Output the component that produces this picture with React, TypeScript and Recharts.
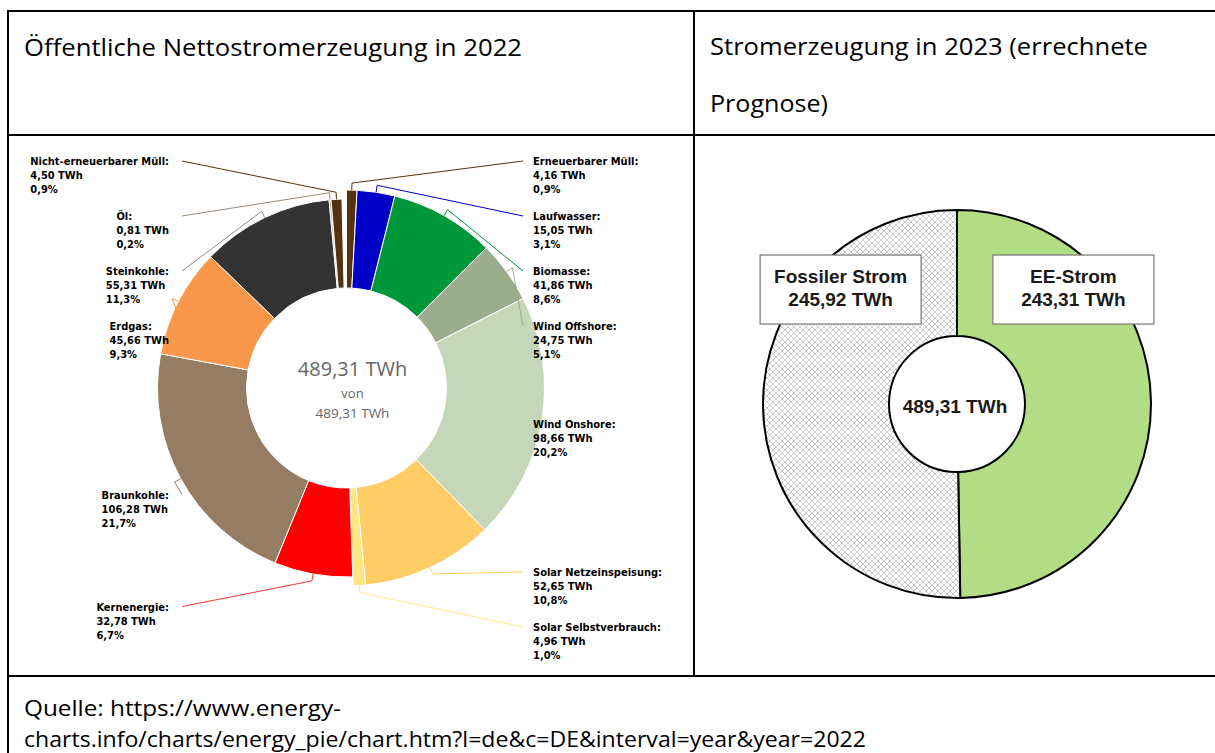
import React from 'react';
import { PieChart, Pie, Cell, Label } from 'recharts';

// ---------------- data ----------------
const TOTAL_2022 = 489.31;
const renewableNames = [
  'Erneuerbarer Müll',
  'Laufwasser',
  'Biomasse',
  'Wind Offshore',
  'Wind Onshore',
  'Solar Netzeinspeisung',
  'Solar Selbstverbrauch',
];
const renewableValues = [4.16, 15.05, 41.86, 24.75, 98.66, 52.65, 4.96];
const renewableColors = ['#553311', '#0000c8', '#00963a', '#9aae8e', '#c4d8b9', '#ffcc66', '#ffe680'];

const conventionalNames = ['Kernenergie', 'Braunkohle', 'Erdgas', 'Steinkohle', 'Öl', 'Nicht-erneuerbarer Müll'];
const conventionalValues = [32.78, 106.28, 45.66, 55.31, 0.81, 4.5];
const conventionalColors = ['#ff0000', '#967c62', '#f9984a', '#333333', '#b3a595', '#553311'];
const conventionalLineColors = ['#ff3333', '#967c62', '#f9984a', '#8c8c8c', '#9c8a78', '#553311'];

const TOTAL_2023 = 489.31;
const forecastNames = ['EE-Strom', 'Fossiler Strom'];
const forecastValues = [243.31, 245.92];
const forecastFills = ['#b3dd85', 'url(#hatch)'];

const TITLE_LEFT = 'Öffentliche Nettostromerzeugung in 2022';
const TITLE_RIGHT_1 = 'Stromerzeugung in 2023 (errechnete';
const TITLE_RIGHT_2 = 'Prognose)';
const SOURCE_1 = 'Quelle: https://www.energy-';
const SOURCE_2 = 'charts.info/charts/energy_pie/chart.htm?l=de&c=DE&interval=year&year=2022';

// ---------------- helpers ----------------
const fmt = (v: number) => v.toFixed(2).replace('.', ',') + ' TWh';
const fmtPct = (v: number) => ((v / TOTAL_2022) * 100).toFixed(1).replace('.', ',') + '%';
const sum = (a: number[]) => a.reduce((s, v) => s + v, 0);
const NO_MARGIN = { top: 0, right: 0, bottom: 0, left: 0 };

// ---------------- geometry (left donut) ----------------
const L_W = 694;
const L_H = 753;
const L_CX = 346.5;
const L_CY = 388;
const L_INNER = 100;
const L_OUTER_REN = 198;
const L_OUTER_CONV = 189;
const LABEL_R = 222;
const LABEL_STEP = 55;
const LABEL_TOP = 161;
const LABEL_BOTTOM = 640;
const RIGHT_LINE_X = 523;
const RIGHT_TEXT_X = 533;
const LEFT_LINE_X = 182;
const LEFT_TEXT_RIGHT = 169;
const LABEL_FONT = 11;
const LABEL_FAMILY = '"DejaVu Sans Condensed", "DejaVu Sans", sans-serif';
const LINE_H = 14;

const renData = renewableNames.map((name, i) => ({ name, value: renewableValues[i] }));
const convData = conventionalNames.map((name, i) => ({ name, value: conventionalValues[i] }));
const renSum = sum(renewableValues);
const convSum = sum(conventionalValues);
const REN_START = 90;
const REN_END = 90 - (360 * renSum) / TOTAL_2022;
const CONV_START = REN_END;
const CONV_END = REN_END - (360 * convSum) / TOTAL_2022;

type LabelPos = { name: string; side: 'left' | 'right'; ny: number; y: number };

function layoutLabels(): Record<string, LabelPos> {
  const items: LabelPos[] = [];
  let acc = 0;
  [...renData, ...convData].forEach((d) => {
    const theta = ((acc + d.value / 2) / TOTAL_2022) * 2 * Math.PI;
    acc += d.value;
    const side: 'left' | 'right' = Math.sin(theta) >= 0 ? 'right' : 'left';
    items.push({ name: d.name, side, ny: L_CY - LABEL_R * Math.cos(theta), y: 0 });
  });
  (['left', 'right'] as const).forEach((side) => {
    const list = items.filter((i) => i.side === side).sort((a, b) => a.ny - b.ny);
    const groups: { members: LabelPos[]; top: number }[] = [];
    const place = (g: { members: LabelPos[]; top: number }) => {
      const n = g.members.length;
      let top = g.members.reduce((s, m, k) => s + m.ny - k * LABEL_STEP, 0) / n;
      top = Math.max(LABEL_TOP, Math.min(LABEL_BOTTOM - (n - 1) * LABEL_STEP, top));
      g.top = top;
    };
    list.forEach((it) => {
      const g = { members: [it], top: it.ny };
      place(g);
      groups.push(g);
      while (groups.length > 1) {
        const a = groups[groups.length - 2];
        const b = groups[groups.length - 1];
        if (a.top + a.members.length * LABEL_STEP > b.top) {
          const merged = { members: [...a.members, ...b.members], top: 0 };
          place(merged);
          groups.splice(groups.length - 2, 2, merged);
        } else break;
      }
    });
    groups.forEach((g) => g.members.forEach((m, k) => (m.y = g.top + k * LABEL_STEP)));
  });
  const out: Record<string, LabelPos> = {};
  items.forEach((i) => (out[i.name] = i));
  return out;
}
const LAYOUT = layoutLabels();

let measureCtx: CanvasRenderingContext2D | null = null;
const measure = (s: string) => {
  if (!measureCtx) measureCtx = document.createElement('canvas').getContext('2d');
  if (!measureCtx) return s.length * 6;
  measureCtx.font = `bold ${LABEL_FONT}px ${LABEL_FAMILY}`;
  return measureCtx.measureText(s).width;
};

const makeLabel = (names: string[], values: number[], lineColors: string[]) => (props: any) => {
  const { cx, cy, midAngle, outerRadius, index } = props;
  const name = names[index];
  const pos = LAYOUT[name];
  if (!pos) return null;
  const rad = Math.PI / 180;
  const ux = Math.cos(-midAngle * rad);
  const uy = Math.sin(-midAngle * rad);
  const x0 = cx + outerRadius * ux;
  const y0 = cy + outerRadius * uy;
  const x1 = cx + (outerRadius + 7) * ux;
  const y1 = cy + (outerRadius + 7) * uy;
  const right = pos.side === 'right';
  const xe = right ? RIGHT_LINE_X : LEFT_LINE_X;
  const lines = [name + ':', fmt(values[index]), fmtPct(values[index])];
  const w = Math.max(...lines.map(measure));
  const tx = right ? RIGHT_TEXT_X : LEFT_TEXT_RIGHT - w;
  return (
    <g key={'lbl-' + name}>
      <path
        d={`M${x0},${y0}L${x1},${y1}L${xe},${pos.y}`}
        stroke={lineColors[index]}
        strokeWidth={1}
        fill="none"
      />
      <text
        x={tx}
        y={pos.y + 4}
        fontSize={LABEL_FONT}
        fontFamily={LABEL_FAMILY}
        fontWeight="bold"
        fill="#000"
      >
        {lines.map((l, k) => (
          <tspan key={k} x={tx} dy={k === 0 ? 0 : LINE_H}>
            {l}
          </tspan>
        ))}
      </text>
    </g>
  );
};

const renderLeftCenter = () => (
  <g>
    <text x={L_CX + 6} y={L_CY - 12} textAnchor="middle" fontFamily="Open Sans" fontSize={20} fill="#666">
      {fmt(TOTAL_2022)}
    </text>
    <text x={L_CX + 6} y={L_CY + 10} textAnchor="middle" fontFamily="Open Sans" fontSize={13} fill="#666">
      von
    </text>
    <text x={L_CX + 6} y={L_CY + 30} textAnchor="middle" fontFamily="Open Sans" fontSize={13.5} fill="#666">
      {fmt(TOTAL_2022)}
    </text>
  </g>
);

// ---------------- geometry (right donut) ----------------
const R_LEFT = 695;
const R_W = 520;
const R_CX = 262;
const R_CY = 404;
const R_INNER = 68;
const R_OUTER = 194;
const BOX_W = 161;
const BOX_H = 69;
const BOX_FONT = '"Liberation Sans", Arial, sans-serif';

const forecastData = forecastNames.map((name, i) => ({ name, value: forecastValues[i] }));

const renderForecastLabel = (props: any) => {
  const { cx, cy, midAngle, outerRadius, index } = props;
  const dir = Math.cos((midAngle * Math.PI) / 180) >= 0 ? 1 : -1;
  const bx = cx + dir * outerRadius * 0.6;
  const by = cy - outerRadius * 0.59;
  return (
    <g key={'box-' + index}>
      <rect
        x={bx - BOX_W / 2}
        y={by - BOX_H / 2}
        width={BOX_W}
        height={BOX_H}
        fill="#fff"
        stroke="#808080"
        strokeWidth={1.3}
      />
      <text x={bx} y={by - 6.5} textAnchor="middle" fontFamily={BOX_FONT} fontWeight="bold" fontSize={19} fill="#1a1a1a">
        {forecastNames[index]}
      </text>
      <text x={bx} y={by + 16.5} textAnchor="middle" fontFamily={BOX_FONT} fontWeight="bold" fontSize={19} fill="#1a1a1a">
        {fmt(forecastValues[index])}
      </text>
    </g>
  );
};

const renderRightCenter = () => (
  <text x={R_CX - 2} y={R_CY + 9} textAnchor="middle" fontFamily={BOX_FONT} fontWeight="bold" fontSize={19} fill="#1a1a1a">
    {fmt(TOTAL_2023)}
  </text>
);

// ---------------- page ----------------
const HEAD_FONT = '"Open Sans", sans-serif';

export default function App() {
  return (
    <div
      style={{
        position: 'absolute',
        left: 0,
        top: 0,
        width: 1215,
        height: 753,
        overflow: 'hidden',
        background: '#fff',
      }}
    >
      <svg width={1215} height={753} style={{ position: 'absolute', left: 0, top: 0 }}>
        <defs>
          <pattern id="hatch" width="6" height="6" patternUnits="userSpaceOnUse">
            <rect width="6" height="6" fill="#ffffff" />
            <path d="M0,0L6,6M6,0L0,6" stroke="#b4b4b4" strokeWidth="0.7" />
          </pattern>
        </defs>
        {/* table lines */}
        <rect x={7} y={10} width={1208} height={2} fill="#000" />
        <rect x={7} y={10} width={2} height={743} fill="#000" />
        <rect x={693} y={10} width={2} height={666} fill="#000" />
        <rect x={7} y={134} width={1208} height={2} fill="#000" />
        <rect x={7} y={675} width={1208} height={2} fill="#000" />
        {/* header / footer */}
        <text x={24} y={56} fontFamily={HEAD_FONT} fontSize={23} fill="#000" textLength={498} lengthAdjust="spacingAndGlyphs">
          {TITLE_LEFT}
        </text>
        <text x={710} y={55} fontFamily={HEAD_FONT} fontSize={23} fill="#000" textLength={438} lengthAdjust="spacingAndGlyphs">
          {TITLE_RIGHT_1}
        </text>
        <text x={710} y={112} fontFamily={HEAD_FONT} fontSize={23} fill="#000" textLength={118} lengthAdjust="spacingAndGlyphs">
          {TITLE_RIGHT_2}
        </text>
        <text x={24} y={716} fontFamily={HEAD_FONT} fontSize={22} fill="#000" textLength={317} lengthAdjust="spacingAndGlyphs">
          {SOURCE_1}
        </text>
        <text x={24} y={747} fontFamily={HEAD_FONT} fontSize={22} fill="#000" textLength={842} lengthAdjust="spacingAndGlyphs">
          {SOURCE_2}
        </text>
      </svg>

      <div style={{ position: 'absolute', left: 0, top: 0 }}>
        <PieChart width={L_W} height={L_H} margin={NO_MARGIN}>
          <Pie
            data={renData}
            dataKey="value"
            nameKey="name"
            cx={L_CX}
            cy={L_CY}
            innerRadius={L_INNER}
            outerRadius={L_OUTER_REN}
            startAngle={REN_START}
            endAngle={REN_END}
            stroke="#ffffff"
            strokeWidth={1}
            isAnimationActive={false}
            labelLine={false}
            label={makeLabel(renewableNames, renewableValues, renewableColors)}
          >
            {renData.map((d, i) => (
              <Cell key={d.name} fill={renewableColors[i]} />
            ))}
            <Label content={renderLeftCenter} position="center" />
          </Pie>
          <Pie
            data={convData}
            dataKey="value"
            nameKey="name"
            cx={L_CX}
            cy={L_CY}
            innerRadius={L_INNER}
            outerRadius={L_OUTER_CONV}
            startAngle={CONV_START}
            endAngle={CONV_END}
            stroke="#ffffff"
            strokeWidth={1}
            isAnimationActive={false}
            labelLine={false}
            label={makeLabel(conventionalNames, conventionalValues, conventionalLineColors)}
          >
            {convData.map((d, i) => (
              <Cell key={d.name} fill={conventionalColors[i]} />
            ))}
          </Pie>
        </PieChart>
      </div>

      <div style={{ position: 'absolute', left: R_LEFT, top: 0 }}>
        <PieChart width={R_W} height={L_H} margin={NO_MARGIN}>
          <Pie
            data={forecastData}
            dataKey="value"
            nameKey="name"
            cx={R_CX}
            cy={R_CY}
            innerRadius={R_INNER}
            outerRadius={R_OUTER}
            startAngle={90}
            endAngle={-270}
            stroke="#000000"
            strokeWidth={2}
            isAnimationActive={false}
            labelLine={false}
            label={renderForecastLabel}
          >
            {forecastData.map((d, i) => (
              <Cell key={d.name} fill={forecastFills[i]} />
            ))}
            <Label content={renderRightCenter} position="center" />
          </Pie>
        </PieChart>
      </div>
    </div>
  );
}
